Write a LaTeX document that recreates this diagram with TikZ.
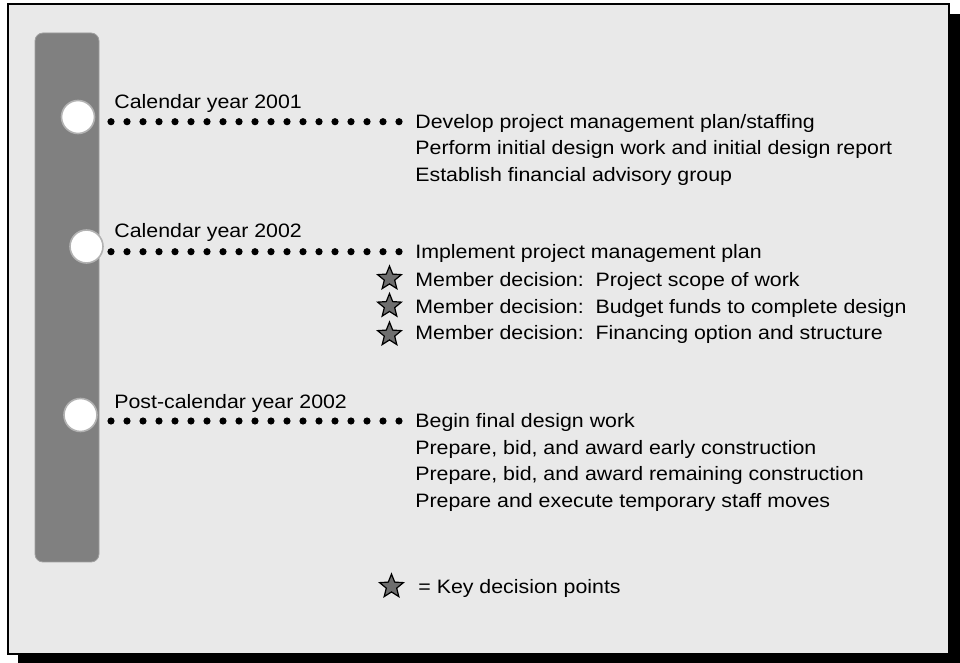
\documentclass[tikz,border=0pt]{standalone}
\usepackage{fontspec}
\setmainfont{Liberation Sans}[FakeStretch=1.1]
\usepackage{tikz}
\usetikzlibrary{shapes.geometric}
\definecolor{panelgray}{HTML}{E9E9E9}
\definecolor{bargray}{HTML}{808080}
\definecolor{stargray}{HTML}{6E6E6E}
\tikzset{
  stage/.style={circle,fill=white,draw=gray!60,line width=0.8pt,minimum size=16.5pt,inner sep=0pt},
  yeartext/.style={anchor=base west,inner sep=0pt,font=\fontsize{9.7}{13}\selectfont},
  task/.style={anchor=base west,inner sep=0pt,font=\fontsize{9.7}{13}\selectfont},
  keystar/.style={star,star points=5,star point ratio=2.3,minimum size=12.5pt,inner sep=0pt,fill=stargray,draw=black,line width=0.6pt},
  dotrow/.style={line width=3.6pt,line cap=round,dash pattern=on 0pt off 8pt}
}

\begin{document}
\begin{tikzpicture}[x=0.5pt,y=-0.5pt]
        \useasboundingbox (0,0) rectangle (960,663);
        \fill (18,14) rectangle (960,663);
        \draw[fill=panelgray,line width=1pt] (8,4) rectangle (949,654);
        \draw[fill=bargray,draw=gray!75,rounded corners=4pt] (35,33) rectangle (99,562);

        \node[stage] (c1) at (78,117) {};
        \node[stage] (c2) at (86.5,246.5) {};
        \node[stage] (c3) at (80.5,415) {};

        \node[yeartext] (y1) at (114,109) {Calendar year 2001};
        \node[yeartext] (y2) at (114,238) {Calendar year 2002};
        \node[yeartext] (y3) at (114,408.3) {Post-calendar year 2002};

        \foreach \n/\y in {1/121.7,2/251.7,3/421}{
            \coordinate (d\n a) at (111,\y);
            \coordinate (d\n b) at (400,\y);
            \draw[dotrow] (d\n a) -- (d\n b);
        }

        % calendar year 2001
        \node[task] (t11) at (415,128.3) {Develop project management plan/staffing};
        \node[task] (t12) at (415,155) {Perform initial design work and initial design report};
        \node[task] (t13) at (415,181.7) {Establish financial advisory group};

        % calendar year 2002
        \node[task] (t21) at (415,258.5) {Implement project management plan};
        \node[task] (t22) at (415,286.5) {Member decision:\ \ Project scope of work};
        \node[task] (t23) at (415,313.3) {Member decision:\ \ Budget funds to complete design};
        \node[task] (t24) at (415,340) {Member decision:\ \ Financing option and structure};
        \node[keystar] (s22) at (389.5,278.5) {};
        \node[keystar] (s23) at (389.5,306) {};
        \node[keystar] (s24) at (389.5,334.5) {};

        % after 2002
        \node[task] (t31) at (415,427.6) {Begin final design work};
        \node[task] (t32) at (415,454.3) {Prepare, bid, and award early construction};
        \node[task] (t33) at (415,481) {Prepare, bid, and award remaining construction};
        \node[task] (t34) at (415,507.7) {Prepare and execute temporary staff moves};

        \node[keystar] (key) at (391.5,586.5) {};
        \node[task] (keytext) at (418,593.6) {= Key decision points};
\end{tikzpicture}
\end{document}
